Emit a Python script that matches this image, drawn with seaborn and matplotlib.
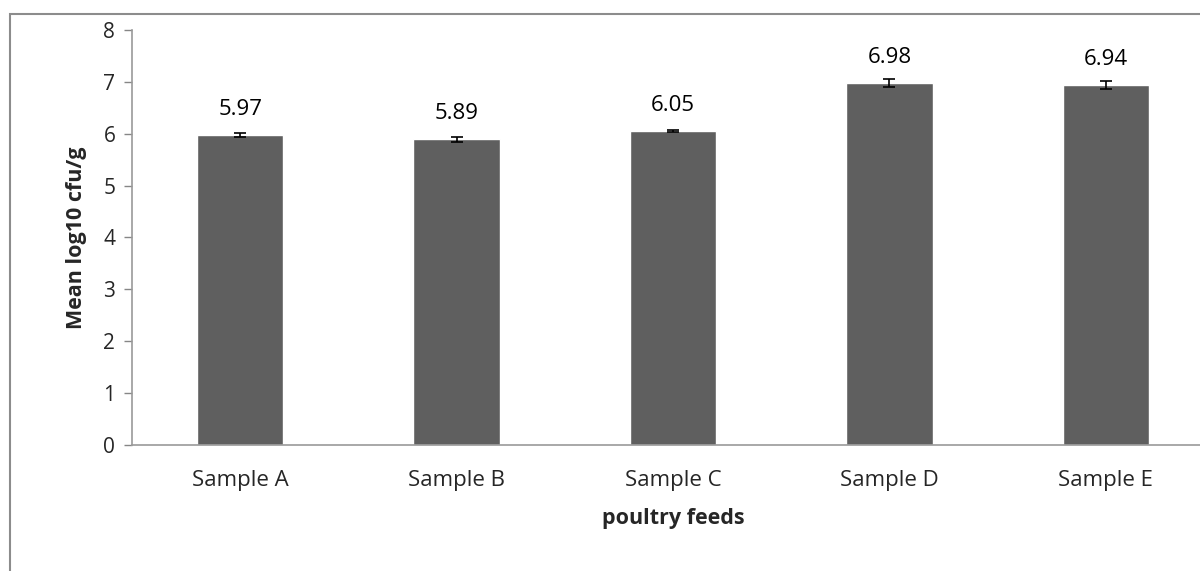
import matplotlib
matplotlib.use("Agg")
import matplotlib.pyplot as plt
import seaborn as sns
import pandas as pd
from matplotlib.patches import Rectangle

categories = ["Sample A", "Sample B", "Sample C", "Sample D", "Sample E"]
means = [5.97, 5.89, 6.05, 6.98, 6.94]
errors = [0.04, 0.05, 0.02, 0.075, 0.07]
yticks = [0, 1, 2, 3, 4, 5, 6, 7, 8]

sns.set_theme(style="white")
plt.rcParams["font.family"] = ["Open Sans", "DejaVu Sans"]

df = pd.DataFrame({"cat": categories, "mean": means})

fig = plt.figure(figsize=(12, 5.71), dpi=100)
ax = fig.add_axes([0.11, 0.2207, 0.9017, 0.7268])

sns.barplot(data=df, x="cat", y="mean", color="#5f5f5f", saturation=1,
            width=0.40, errorbar=None, ax=ax)
bars = ax.containers[0]
ax.bar_label(bars, labels=[f"{v:.2f}" for v in means], padding=11,
             fontsize=16, color="black")
ax.errorbar(range(len(categories)), means, yerr=errors, fmt="none",
            ecolor="black", elinewidth=1.2, capsize=4.3, capthick=1.2)

ax.set_ylim(0, 8)
ax.set_xlim(-0.5, len(categories) - 0.5)
ax.set_yticks(yticks)
ax.set_yticklabels([str(t) for t in yticks], fontsize=15)
ax.tick_params(axis="x", labelsize=16, length=0, pad=18)
ax.tick_params(axis="y", length=6, width=1, color="#868686", direction="out",
               left=True, pad=6)
ax.set_xlabel("poultry feeds", fontsize=15.5, fontweight="bold", labelpad=12)
ax.set_ylabel("Mean log10 cfu/g", fontsize=15.5, fontweight="bold", labelpad=12)

for side in ["top", "right"]:
    ax.spines[side].set_visible(False)
for side in ["left", "bottom"]:
    ax.spines[side].set_color("#9a9a9a")
    ax.spines[side].set_linewidth(1.2)

# outer chart border
fig.patches.append(Rectangle((10 / 1200, -0.05), 1.2, 1 - 14 / 571 + 0.05,
                             transform=fig.transFigure, fill=False,
                             edgecolor="#8c8c8c", linewidth=1.5))

fig.savefig("out.png", dpi=100)
